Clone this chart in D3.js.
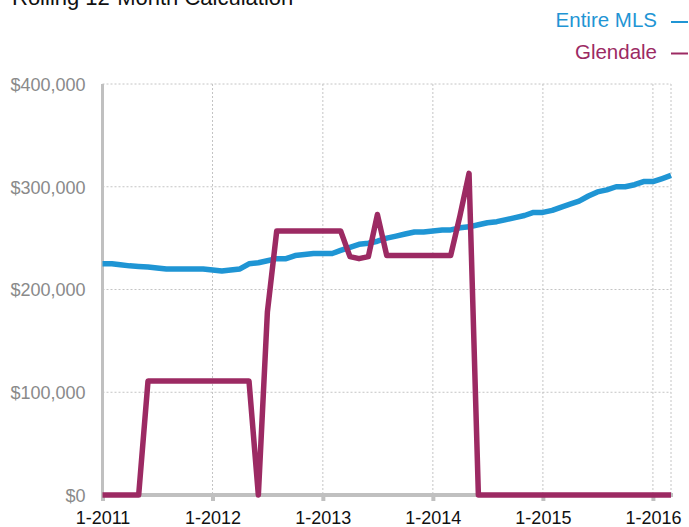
<!DOCTYPE html>
<html>
<head>
<meta charset="utf-8">
<script src="https://cdn.jsdelivr.net/npm/d3@7"></script>
<style>
  html, body { margin: 0; padding: 0; background: #fff; }
  svg { display: block; font-family: "Liberation Sans", Arial, Helvetica, sans-serif; }
</style>
</head>
<body>
<svg id="chart" width="689" height="527"></svg>
<script>
// ---- Data (monthly, Jan 2011 .. Mar 2016), values in thousands of dollars ----
const startYear = 2011;
const seriesNames = ["Entire MLS", "Glendale"];
const entireMLS = [
  225, 225, 224, 223, 222.5, 222, 221, 220, 220, 220, 220, 220,
  219, 218, 219, 220, 225, 226, 228, 230, 230, 233, 234, 235,
  235, 235, 238, 241, 244, 245, 247, 250, 252, 254, 256, 256,
  257, 258, 258, 260, 261, 263, 265, 266, 268, 270, 272, 275,
  275, 277, 280, 283, 286, 291, 295, 297, 300, 300, 302, 305,
  305, 308, 311
];
const glendale = [
  0, 0, 0, 0, 0, 111, 111, 111, 111, 111, 111, 111,
  111, 111, 111, 111, 111, 0, 178, 257, 257, 257, 257, 257,
  257, 257, 257, 232, 230, 232, 273, 233, 233, 233, 233, 233,
  233, 233, 233, 272, 313, 0, 0, 0, 0, 0, 0, 0,
  0, 0, 0, 0, 0, 0, 0, 0, 0, 0, 0, 0,
  0, 0, 0
];
const yTicks = [0, 100000, 200000, 300000, 400000];
const xTickYears = [2011, 2012, 2013, 2014, 2015, 2016];
const titleText = "Rolling 12-Month Calculation";

// ---- Layout / style ----
const colors = { "Entire MLS": "#1f95d4", "Glendale": "#9c2a63" };
const mLeft = 102.5, mRight = 671, mTop = 84, mBottom = 495;

const svg = d3.select("#chart");
const dates = entireMLS.map((_, i) => new Date(startYear, i, 1));

const x = d3.scaleTime()
  .domain([dates[0], dates[dates.length - 1]])
  .range([mLeft, mRight]);
const y = d3.scaleLinear().domain([0, 400000]).range([mBottom, mTop]);

// Title (partially clipped at top, as in the source image)
svg.append("text")
  .attr("x", 12).attr("y", 4.5)
  .attr("font-size", 22).attr("fill", "#111")
  .text(titleText);

// Gridlines (dotted)
const grid = svg.append("g");
grid.selectAll("line.h").data(yTicks.filter(d => d > 0)).join("line")
  .attr("x1", mLeft).attr("x2", mRight)
  .attr("y1", d => y(d)).attr("y2", d => y(d))
  .attr("stroke", "#c4c4c4").attr("stroke-width", 1)
  .attr("stroke-dasharray", "2,2");
const vLines = xTickYears.slice(1).map(yr => new Date(yr, 0, 1));
grid.selectAll("line.v").data(vLines).join("line")
  .attr("x1", d => x(d)).attr("x2", d => x(d))
  .attr("y1", mTop).attr("y2", mBottom)
  .attr("stroke", "#c4c4c4").attr("stroke-width", 1)
  .attr("stroke-dasharray", "2,2");
grid.append("line")
  .attr("x1", mRight).attr("x2", mRight).attr("y1", mTop).attr("y2", mBottom)
  .attr("stroke", "#c4c4c4").attr("stroke-width", 1)
  .attr("stroke-dasharray", "2,2");

// Y axis
const yAxis = svg.append("g").attr("transform", `translate(${mLeft},0)`)
  .call(d3.axisLeft(y).tickValues(yTicks)
    .tickFormat(d => "$" + d3.format(",")(d)).tickSize(0).tickPadding(17));
yAxis.select(".domain").attr("stroke", "#c0c0c0").attr("stroke-width", 3)
  .attr("d", `M0,${mTop}V${mBottom + 2}`);
yAxis.selectAll("text").attr("font-size", 18).attr("fill", "#8a8a8a")
  .attr("font-family", '"Liberation Sans", Arial, Helvetica, sans-serif')
  .attr("dy", "0.35em");

// X axis
const xAxis = svg.append("g").attr("transform", `translate(0,${mBottom})`)
  .call(d3.axisBottom(x).tickValues(xTickYears.map(yr => new Date(yr, 0, 1)))
    .tickFormat(d => (d.getMonth() + 1) + "-" + d.getFullYear())
    .tickSize(6).tickPadding(10));
xAxis.select(".domain").attr("stroke", "#c0c0c0").attr("stroke-width", 4)
  .attr("d", `M${mLeft},0H${mRight + 2}`);
xAxis.selectAll(".tick line").attr("stroke", "#c0c0c0").attr("stroke-width", 4);
xAxis.selectAll("text").attr("font-size", 18).attr("fill", "#111")
  .attr("font-family", '"Liberation Sans", Arial, Helvetica, sans-serif');

// Lines
const line = d3.line()
  .x((d, i) => x(dates[i]))
  .y(d => y(d * 1000));
const seriesData = [entireMLS, glendale];
svg.append("g").selectAll("path").data(seriesData).join("path")
  .attr("d", d => line(d))
  .attr("fill", "none")
  .attr("stroke", (d, i) => colors[seriesNames[i]])
  .attr("stroke-width", 5.5)
  .attr("stroke-linejoin", "round")
  .attr("stroke-linecap", "butt");

// Legend (top right)
const legend = svg.append("g");
const legendY = [27, 58.5];
seriesNames.forEach((name, i) => {
  legend.append("text")
    .attr("x", 657).attr("y", legendY[i])
    .attr("text-anchor", "end")
    .attr("font-size", 20.5)
    .attr("fill", colors[name])
    .text(name);
  legend.append("line")
    .attr("x1", 671).attr("x2", 688)
    .attr("y1", legendY[i] - 5).attr("y2", legendY[i] - 5)
    .attr("stroke", colors[name]).attr("stroke-width", 2);
});
</script>
</body>
</html>
